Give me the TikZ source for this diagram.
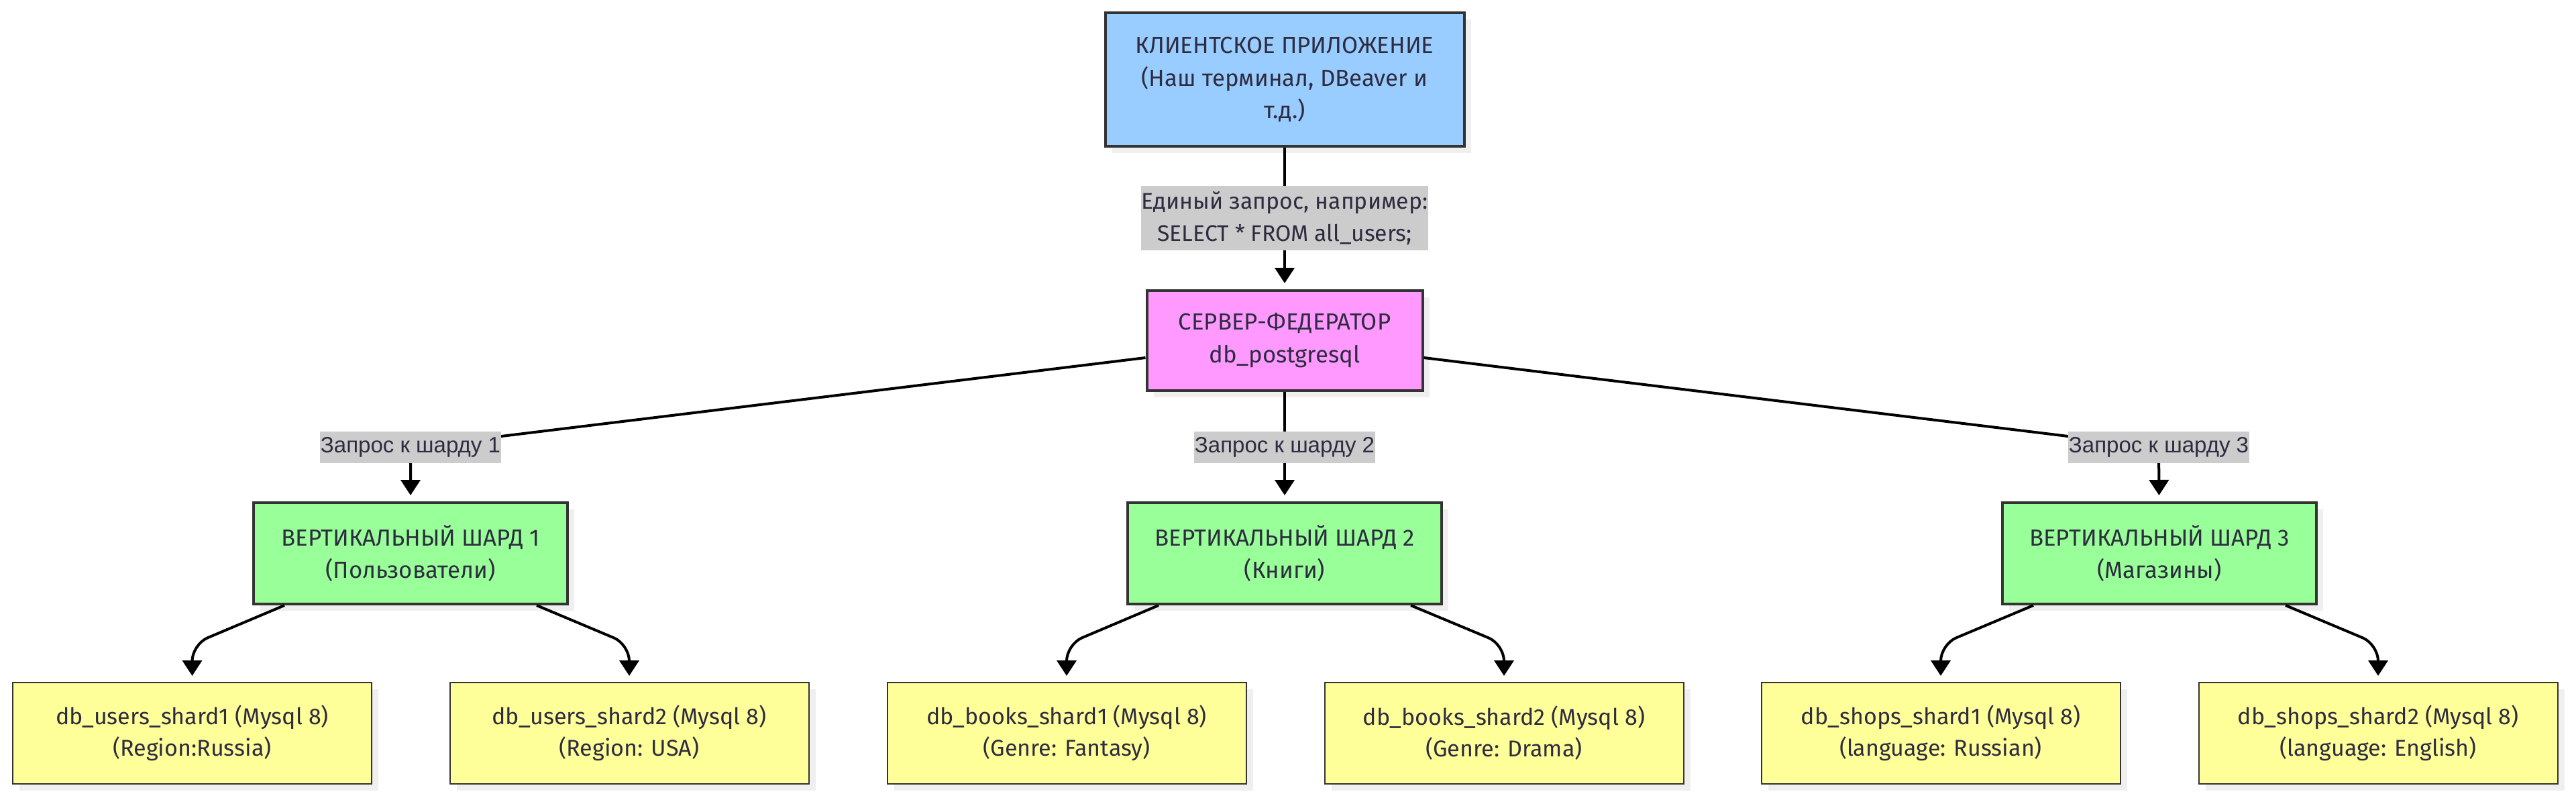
\documentclass[tikz,border=0pt]{standalone}
\usepackage{fontspec}
\setmainfont{Fira Sans}
\newfontfamily\labelfont{Liberation Sans}
\usetikzlibrary{arrows.meta,shadows}
\definecolor{clientblue}{HTML}{99CCFF}
\definecolor{fedpink}{HTML}{FF99FF}
\definecolor{shardgreen}{HTML}{99FF99}
\definecolor{dbyellow}{HTML}{FFFF99}
\definecolor{labelgray}{HTML}{CCCCCC}
\definecolor{boxline}{HTML}{333333}
\definecolor{textdark}{HTML}{2E2C40}
\definecolor{shadowgray}{HTML}{EFEFEF}

\begin{document}
\begin{tikzpicture}[
    box/.style={draw=boxline, line width=0.04cm, text=textdark, align=center, inner sep=0,
        font=\fontsize{9.9}{13.9}\selectfont,
        drop shadow={shadow xshift=0.1cm, shadow yshift=-0.1cm, fill=shadowgray, opacity=1}},
    dbbox/.style={box, fill=dbyellow, line width=0.02cm, minimum width=5.35cm, minimum height=1.51cm,
        font=\fontsize{9.7}{13.4}\selectfont},
    shardbox/.style={box, fill=shardgreen, minimum width=4.68cm, minimum height=1.51cm},
    lbl/.style={fill=labelgray, text=textdark, inner xsep=0.01cm, inner ysep=0, minimum height=0.47cm,
        align=center, font=\labelfont\fontsize{9.4}{11}\selectfont},
    edge/.style={line width=0.04cm, -{Triangle[length=0.23cm,width=0.29cm]}, shorten >=0.09cm},
    split/.style={edge, rounded corners=0.25cm}
]
    \useasboundingbox (0,0) rectangle (38.4,11.91);

    % top of the tree
    \node[box, fill=clientblue, minimum width=5.35cm, minimum height=1.99cm] (client) at (19.15,10.725)
        {КЛИЕНТСКОЕ ПРИЛОЖЕНИЕ\\(Наш терминал, DBeaver и\\т.д.)};
    \node[box, fill=fedpink, minimum width=4.11cm, minimum height=1.49cm] (fed) at (19.15,6.835)
        {СЕРВЕР-ФЕДЕРАТОР\\db\_postgresql};

    % shards
    \node[shardbox] (sh1) at (6.12,3.665) {ВЕРТИКАЛЬНЫЙ ШАРД 1\\(Пользователи)};
    \node[shardbox] (sh2) at (19.15,3.665) {ВЕРТИКАЛЬНЫЙ ШАРД 2\\(Книги)};
    \node[shardbox] (sh3) at (32.19,3.665) {ВЕРТИКАЛЬНЫЙ ШАРД 3\\(Магазины)};

    % databases
    \node[dbbox] (users1) at (2.865,0.985) {db\_users\_shard1 (Mysql 8)\\(Region:Russia)};
    \node[dbbox] (users2) at (9.38,0.985) {db\_users\_shard2 (Mysql 8)\\(Region: USA)};
    \node[dbbox] (books1) at (15.90,0.985) {db\_books\_shard1 (Mysql 8)\\(Genre: Fantasy)};
    \node[dbbox] (books2) at (22.42,0.985) {db\_books\_shard2 (Mysql 8)\\(Genre: Drama)};
    \node[dbbox] (shops1) at (28.93,0.985) {db\_shops\_shard1 (Mysql 8)\\(language: Russian)};
    \node[dbbox] (shops2) at (35.45,0.985) {db\_shops\_shard2 (Mysql 8)\\(language: English)};

    % requests
    \draw[edge] (client) -- (19.15,8.66)
        node[lbl, inner ysep=0.08cm, font=\fontsize{9.6}{13.7}\selectfont] (query)
        {Единый запрос, например:\\SELECT * FROM all\_users;} -- (fed);
    \draw[edge] ([yshift=-0.255cm]fed.west) -- (6.12,5.245) node[lbl] (q1) {Запрос к шарду 1} -- (sh1);
    \draw[edge] (fed) -- (19.15,5.245) node[lbl] (q2) {Запрос к шарду 2} -- (sh2);
    \draw[edge] ([yshift=-0.255cm]fed.east) -- (32.18,5.245) node[lbl] (q3) {Запрос к шарду 3} -- (sh3);

    % shards to databases
    \draw[split] ([xshift=-1.88cm]sh1.south) -- ([yshift=0.56cm]users1.north) -- (users1.north);
    \draw[split] ([xshift=1.88cm]sh1.south) -- ([yshift=0.56cm]users2.north) -- (users2.north);
    \draw[split] ([xshift=-1.88cm]sh2.south) -- ([yshift=0.56cm]books1.north) -- (books1.north);
    \draw[split] ([xshift=1.88cm]sh2.south) -- ([yshift=0.56cm]books2.north) -- (books2.north);
    \draw[split] ([xshift=-1.88cm]sh3.south) -- ([yshift=0.56cm]shops1.north) -- (shops1.north);
    \draw[split] ([xshift=1.88cm]sh3.south) -- ([yshift=0.56cm]shops2.north) -- (shops2.north);
\end{tikzpicture}
\end{document}
